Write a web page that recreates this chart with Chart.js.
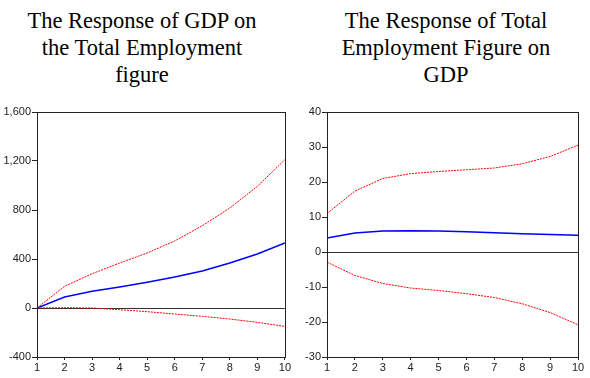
<!DOCTYPE html>
<html>
<head>
<meta charset="utf-8">
<script src="https://cdn.jsdelivr.net/npm/chart.js@4/dist/chart.umd.min.js"></script>
<style>
  html, body { margin: 0; padding: 0; background: #fff; }
  body { width: 590px; height: 378px; position: relative; overflow: hidden; }
  .ttl { position: absolute; top: 7px; font-family: 'Liberation Serif', 'Times New Roman', serif;
         font-size: 22.5px; line-height: 27px; text-align: center; color: #000; white-space: nowrap; }
  canvas { position: absolute; top: 100px; }
</style>
</head>
<body>
<div class="ttl" style="left:0px;width:284px;">The Response of GDP on<br>the Total Employment<br>figure</div>
<div class="ttl" style="left:296px;width:300px;">The Response of Total<br>Employment Figure on<br>GDP</div>
<canvas id="left" width="292" height="278" style="left:0px;width:292px;height:278px;"></canvas>
<canvas id="right" width="298" height="278" style="left:292px;width:298px;height:278px;"></canvas>
<script>
// Forecast horizons (periods)
const periods = [1, 2, 3, 4, 5, 6, 7, 8, 9, 10];

// Response of GDP to a total employment shock, with ±2 S.E. bands
const gdpResponse = [0, 90, 136, 171, 210, 253, 302, 367, 441, 531];
const gdpUpper    = [0, 177, 280, 367, 449, 547, 672, 816, 993, 1211];
const gdpLower    = [0, 3, 0, -14, -30, -49, -68, -90, -117, -150];

// Response of total employment to a GDP shock, with ±2 S.E. bands
const empResponse = [4.0, 5.4, 6.0, 6.1, 6.0, 5.8, 5.5, 5.2, 5.0, 4.8];
const empUpper    = [11.0, 17.4, 21.0, 22.4, 23.0, 23.5, 24.0, 25.2, 27.3, 30.5];
const empLower    = [-2.9, -6.7, -9.0, -10.3, -11.0, -11.9, -13.0, -14.8, -17.3, -20.8];

// Y-axis ranges and tick steps
const gdpTicks = { min: -400, max: 1600, step: 400 };
const empTicks = { min: -30, max: 40, step: 10 };

const tickFont = { family: "'Liberation Sans Narrow', 'Liberation Sans', Arial, sans-serif", size: 11 };

// Outline the whole plotting area
const frame = {
  id: 'frame',
  afterDraw(chart) {
    const a = chart.chartArea, c = chart.ctx;
    c.save();
    c.strokeStyle = '#222';
    c.lineWidth = 1;
    c.strokeRect(Math.round(a.left) + 0.5, Math.round(a.top) + 0.5,
                 Math.round(a.right - a.left), Math.round(a.bottom - a.top));
    c.restore();
  }
};

function pts(values) {
  return values.map((v, i) => ({ x: periods[i], y: v }));
}

function makeChart(id, resp, upper, lower, range, yWidth, padRight) {
  return new Chart(document.getElementById(id), {
    type: 'line',
    data: {
      datasets: [
        { data: pts(upper), borderColor: '#ff0000', borderWidth: 1, borderDash: [2, 1], pointRadius: 0, tension: 0, fill: false },
        { data: pts(lower), borderColor: '#ff0000', borderWidth: 1, borderDash: [2, 1], pointRadius: 0, tension: 0, fill: false },
        { data: pts(resp),  borderColor: '#0000ff', borderWidth: 1.5, pointRadius: 0, tension: 0, fill: false }
      ]
    },
    options: {
      responsive: false,
      animation: false,
      devicePixelRatio: 1,
      layout: { padding: { top: 12, right: padRight, bottom: 0, left: 0 } },
      plugins: { legend: { display: false }, tooltip: { enabled: false }, title: { display: false } },
      scales: {
        x: {
          type: 'linear', min: 1, max: 10,
          border: { display: true, color: '#222', width: 1 },
          grid: { drawOnChartArea: false, drawTicks: true, tickLength: 3, color: '#222' },
          ticks: { stepSize: 1, color: '#222', font: tickFont, padding: 1, maxRotation: 0 },
          afterFit(s) { s.height = 21; }
        },
        y: {
          min: range.min, max: range.max,
          border: { display: true, color: '#222', width: 1 },
          grid: {
            drawOnChartArea: true, drawTicks: true, tickLength: 5,
            color: ctx => (ctx.tick && ctx.tick.value === 0) ? '#333' : 'rgba(0,0,0,0)',
            tickColor: '#222', lineWidth: 1
          },
          ticks: {
            stepSize: range.step, color: '#222', font: tickFont, padding: 1,
            callback: v => v.toLocaleString('en-US')
          },
          afterFit(s) { s.width = yWidth; }
        }
      }
    },
    plugins: [frame]
  });
}

makeChart('left', gdpResponse, gdpUpper, gdpLower, gdpTicks, 37, 5);
makeChart('right', empResponse, empUpper, empLower, empTicks, 35, 12);
</script>
</body>
</html>
